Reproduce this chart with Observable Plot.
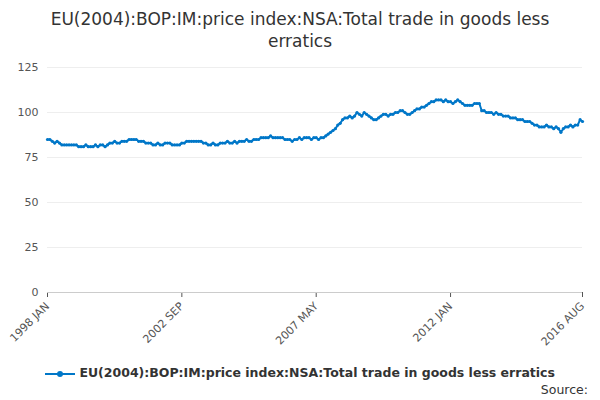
<!DOCTYPE html>
<html><head><meta charset="utf-8">
<script src="https://cdn.jsdelivr.net/npm/d3@7"></script>
<script src="https://cdn.jsdelivr.net/npm/@observablehq/plot@0.6"></script>
<style>
body{margin:0;font-family:"DejaVu Sans",sans-serif;width:600px;height:400px;position:relative;overflow:hidden;background:#fff}
#title{text-align:center;font-size:17px;color:#333;margin-top:8px;line-height:22px}
#legend{position:absolute;top:365px;left:0;width:600px;text-align:center;font-size:12.5px;font-weight:bold;color:#333}
#src{position:absolute;top:382px;right:12px;font-size:12.5px;color:#333}
#chart{position:absolute;top:50px;left:0}
</style></head><body>
<div id="title">EU(2004):BOP:IM:price index:NSA:Total trade in goods less<br>erratics</div>
<div id="chart"></div>
<div id="legend"><svg width="30" height="10" style="vertical-align:middle"><line x1="0" y1="5" x2="30" y2="5" stroke="#0077c8" stroke-width="2"/><circle cx="15" cy="5" r="3" fill="#0077c8"/></svg> EU(2004):BOP:IM:price index:NSA:Total trade in goods less erratics</div>
<div id="src">Source:</div>
<script>
const tickLabels = ["1998 JAN","2002 SEP","2007 MAY","2012 JAN","2016 AUG"];
const tickIdx = [0,56,112,168,223];
const values = [
85,85,84,83,84,83,82,82,82,82,82,82,
82,81,81,81,82,81,81,81,82,81,82,82,
81,82,83,83,84,83,83,84,84,84,85,85,
85,85,84,84,84,83,83,83,82,82,83,82,
82,83,83,83,82,82,82,82,83,83,84,84,
84,84,84,84,84,83,83,82,82,83,82,82,
83,83,83,84,83,83,84,83,84,84,84,85,
84,84,85,85,85,86,86,86,86,87,86,86,
86,86,86,85,85,85,84,85,85,86,85,86,
86,86,85,86,86,85,86,86,87,88,89,90,
91,93,94,96,97,97,98,97,98,100,99,98,
100,99,98,97,96,96,97,98,99,99,98,99,
99,100,100,101,101,100,99,99,100,101,102,102,
103,103,104,105,106,106,107,107,107,106,107,106,
106,105,106,107,106,105,104,104,104,104,105,105,
105,101,101,100,100,100,99,100,99,99,98,98,
98,97,97,97,96,96,96,95,95,95,94,93,
93,92,92,92,93,92,92,91,92,91,89,91,
92,92,93,92,93,93,96,95];
const data = values.map((v,i)=>({i,v}));
const chart = Plot.plot({
  width:600,height:300,marginLeft:47,marginRight:18,marginTop:17,marginBottom:58,
  style:{fontFamily:"DejaVu Sans",fontSize:"11px",color:"#555"},
  x:{domain:[0,223],ticks:tickIdx,tickFormat:i=>tickLabels[tickIdx.indexOf(i)],tickRotate:-45,label:null,tickSize:5},
  y:{domain:[0,125],ticks:[0,25,50,75,100,125],grid:true,label:null,tickSize:0},
  marks:[
    Plot.ruleY([0],{stroke:"#ccc"}),
    Plot.line(data,{x:"i",y:"v",stroke:"#0077c8",strokeWidth:2}),
    Plot.dot(data,{x:"i",y:"v",fill:"#0077c8",r:1.6})
  ]
});
document.getElementById("chart").append(chart);
</script></body></html>
